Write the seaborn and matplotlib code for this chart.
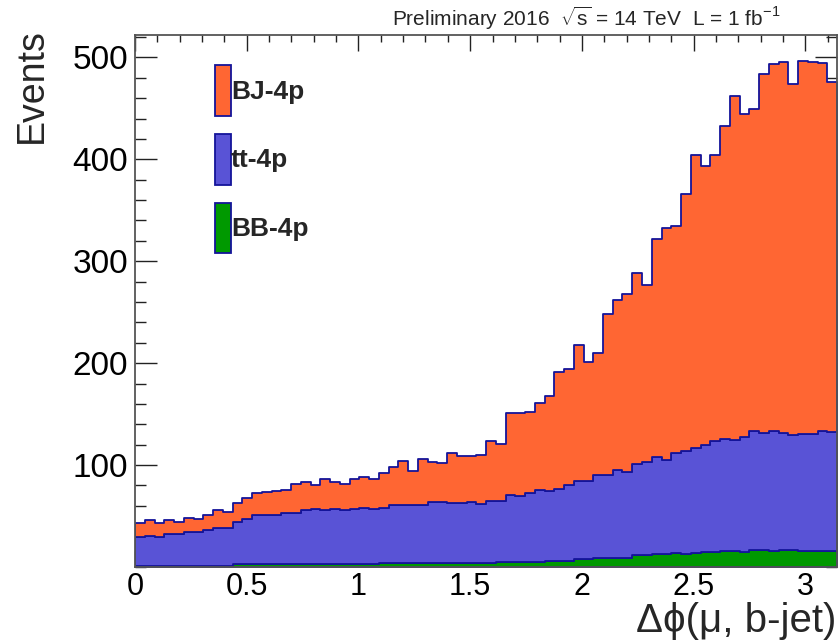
import numpy as np
import pandas as pd
import matplotlib
matplotlib.use('Agg')
import matplotlib.pyplot as plt
from matplotlib.patches import Patch
from matplotlib.ticker import MultipleLocator, FixedLocator
import seaborn as sns

# --- data: events per bin, 72 bins of dphi in [0, pi] ---
n_bins = 72
samples = ['BJ-4p', 'tt-4p', 'BB-4p']

bj_4p = [13.2, 15.2, 13.8, 13.9, 12.5, 14.1, 13.1, 14.4, 17.3, 15.7,
         18.5, 20.0, 21.6, 23.2, 23.3, 22.9, 27.9, 26.9, 23.3, 30.5,
         26.9, 25.3, 29.8, 30.8, 29.5, 34.3, 37.6, 43.0, 33.4, 45.0,
         39.4, 38.4, 49.2, 45.9, 44.8, 48.4, 59.1, 56.1, 80.2, 80.9,
         79.5, 85.6, 93.3, 114.3, 114.0, 133.0, 116.4, 120.2, 158.7, 166.6,
         174.6, 186.7, 174.0, 214.0, 227.9, 222.5, 252.4, 288.1, 273.6, 281.2,
         307.1, 337.2, 316.9, 316.0, 352.0, 360.6, 364.3, 344.5, 365.8, 364.8,
         361.3, 343.6]

tt_4p = [29.3, 30.3, 29.3, 31.6, 31.5, 33.9, 33.9, 35.9, 38.2, 38.2,
         42.0, 45.0, 48.3, 48.3, 48.9, 50.3, 50.9, 53.9, 54.2, 53.5,
         54.2, 53.5, 54.2, 55.2, 54.5, 54.2, 57.5, 57.5, 57.5, 57.5,
         60.1, 60.1, 59.1, 59.1, 60.2, 57.6, 60.7, 60.4, 65.6, 64.9,
         67.3, 70.2, 68.5, 70.5, 73.8, 77.1, 77.1, 81.0, 81.0, 86.6,
         84.6, 89.9, 91.6, 95.1, 92.1, 98.7, 101.0, 102.2, 105.3, 108.5,
         109.5, 108.9, 113.1, 116.3, 114.8, 117.3, 114.3, 112.8, 114.8, 114.5,
         117.0, 116.6]

bb_4p = [0.5, 0.5, 0.5, 0.5, 0.5, 0.5, 0.5, 0.5, 0.5, 0.5,
         2.5, 2.5, 2.5, 2.5, 2.5, 2.5, 2.5, 2.5, 2.5, 2.5,
         2.5, 2.5, 2.5, 2.5, 2.5, 3.5, 3.5, 3.5, 3.5, 3.5,
         3.5, 3.5, 3.5, 3.5, 4.0, 4.0, 4.2, 4.5, 5.2, 5.2,
         5.2, 5.2, 6.2, 6.2, 6.2, 7.5, 7.5, 8.8, 8.8, 8.8,
         8.8, 11.4, 11.4, 12.4, 12.4, 13.4, 12.4, 14.1, 14.7, 14.7,
         15.7, 15.7, 14.4, 16.7, 16.7, 15.7, 16.7, 16.7, 15.7, 16.0,
         16.0, 15.4]

colors = {'BJ-4p': '#ff6633', 'tt-4p': '#5953d6', 'BB-4p': '#009900'}
edge_col = '#14149a'

# build a long table: one row per bin per sample, weighted by the bin content
edges = np.linspace(0, np.pi, n_bins + 1)
centers = 0.5 * (edges[:-1] + edges[1:])
df = pd.concat([
    pd.DataFrame({'dphi': centers, 'events': vals, 'sample': name})
    for name, vals in zip(samples, [bj_4p, tt_4p, bb_4p])
], ignore_index=True)

sns.set_style('ticks')
plt.rcParams['font.family'] = ['Liberation Sans', 'DejaVu Sans']
plt.rcParams['mathtext.fontset'] = 'custom'
plt.rcParams['mathtext.rm'] = 'Liberation Sans'

fig = plt.figure(figsize=(8.38, 6.42), dpi=100)
ax = fig.add_axes([135 / 838, 75 / 642, 702 / 838, 532 / 642])

sns.histplot(data=df, x='dphi', weights='events', hue='sample',
             hue_order=samples, palette=colors, bins=n_bins, binrange=(0, np.pi),
             multiple='stack', element='step', fill=True, alpha=1,
             edgecolor=edge_col, linewidth=1.3, legend=False, ax=ax)

ax.set_xlim(0, np.pi)
ax.set_ylim(0, 522)

# ROOT style axes
ax.xaxis.set_major_locator(MultipleLocator(0.5))
ax.xaxis.set_minor_locator(MultipleLocator(0.1))
ax.yaxis.set_major_locator(FixedLocator([100, 200, 300, 400, 500]))
ax.yaxis.set_minor_locator(MultipleLocator(20))
ax.xaxis.set_major_formatter(plt.FuncFormatter(lambda v, p: f'{v:g}'))
ax.tick_params(which='both', direction='in', top=True, right=True,
               colors='#222222', labelcolor='black', width=1.0)
ax.tick_params(axis='x', which='major', length=11.5, labelsize=22, pad=3.5)
ax.tick_params(axis='x', which='minor', length=5)
ax.tick_params(axis='y', which='major', length=15.8, labelsize=24, pad=5)
ax.tick_params(axis='y', which='minor', length=7.9)
for s in ax.spines.values():
    s.set_color('#555555')
    s.set_linewidth(1.3)

ax.set_ylabel('Events', fontsize=27)
ax.yaxis.set_label_coords(-0.121, 0.905)
ax.set_xlabel('Δϕ(μ, b-jet)', fontsize=29, loc='right')
ax.xaxis.label.set_verticalalignment('baseline')
ax.xaxis.set_label_coords(0.9986, -0.122)

handles = [Patch(facecolor=colors[s], edgecolor=edge_col, linewidth=1.3, label=s)
           for s in samples]
leg = ax.legend(handles=handles, loc='upper left', bbox_to_anchor=(0.0955, 0.9675),
                frameon=False, borderpad=0, handlelength=0.6, handleheight=2.577,
                handletextpad=0.0, labelspacing=0.68,
                prop={'family': 'Liberation Sans', 'weight': 'bold', 'size': 19})

fig.text(780 / 838, 1 - 18 / 642,
         'Preliminary 2016  $\\sqrt{\\mathrm{s}}$ = 14 TeV  L = 1 fb$^{-1}$',
         ha='right', va='center', fontsize=15)

fig.savefig('out.png', dpi=100, facecolor='white')
